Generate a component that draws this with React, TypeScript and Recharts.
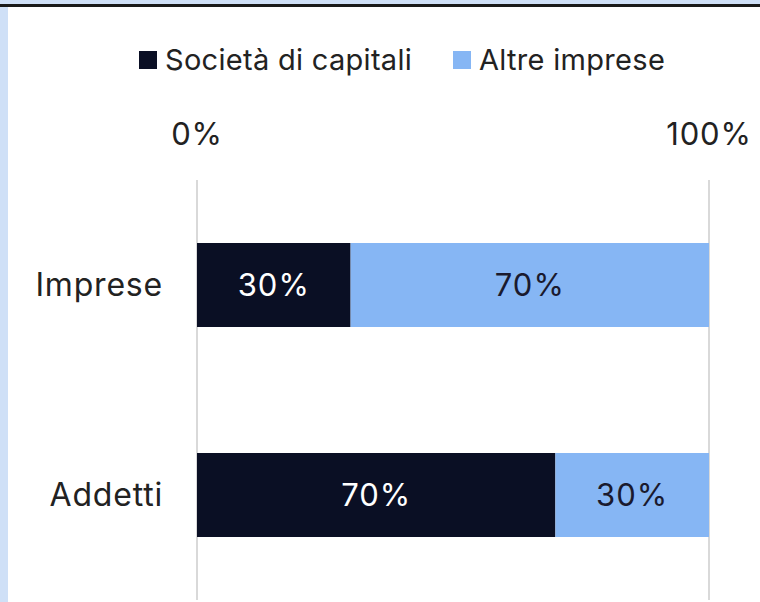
import React from "react";
import { BarChart, Bar, XAxis, YAxis, CartesianGrid, LabelList, Legend } from "recharts";

const categories = ["Impresse", "Addetti"];
const categoryLabels = ["Imprese", "Addetti"];
const societaDiCapitali = [30, 70];
const altreImprese = [70, 30];
const xTicks = [0, 100];
const seriesNames = ["Società di capitali", "Altre imprese"];

const DARK = "#0a0f24";
const LIGHT = "#86b6f4";
const FONT = "Inter, 'Noto Sans', sans-serif";

const data = categories.map((c, i) => ({
  name: categoryLabels[i],
  a: societaDiCapitali[i],
  b: altreImprese[i],
}));

const LegendContent = () => (
  <div style={{ position: "relative", height: 40, fontFamily: FONT, fontSize: 29, color: "#222", letterSpacing: 0.3 }}>
    <div style={{ position: "absolute", left: 139, top: 11, width: 18, height: 18, background: DARK }} />
    <div style={{ position: "absolute", left: 165, top: 0, lineHeight: "40px", whiteSpace: "nowrap" }}>{seriesNames[0]}</div>
    <div style={{ position: "absolute", left: 453, top: 11, width: 18, height: 18, background: LIGHT }} />
    <div style={{ position: "absolute", left: 479, top: 0, lineHeight: "40px", whiteSpace: "nowrap" }}>{seriesNames[1]}</div>
  </div>
);

export default function App() {
  return (
    <div style={{ position: "absolute", left: 0, top: 0, width: 760, height: 602, background: "#fff", overflow: "hidden" }}>
      <div style={{ position: "absolute", left: 0, top: 0, width: 760, height: 4, background: "#cfe0f7" }} />
      <div style={{ position: "absolute", left: 0, top: 4, width: 760, height: 3, background: "#1a1a1a" }} />
      <div style={{ position: "absolute", left: 0, top: 7, width: 8, height: 595, background: "#cfe0f7" }} />
      <BarChart
        width={760}
        height={602}
        data={data}
        layout="vertical"
        margin={{ top: 80, right: 51, bottom: 2, left: 0 }}
        barCategoryGap={63}
      >
        <CartesianGrid horizontal={false} vertical={true} stroke="#d9d9d9" strokeWidth={2} verticalValues={xTicks} />
        <Legend verticalAlign="top" content={<LegendContent />} wrapperStyle={{ top: 40, left: 0, width: 760, height: 40 }} />
        <XAxis
          type="number"
          orientation="top"
          domain={[0, 100]}
          ticks={xTicks}
          tickFormatter={(v) => `${v}%`}
          axisLine={false}
          tickLine={false}
          tickSize={0}
          tickMargin={35}
          height={60}
          interval={0}
          tick={{ fill: "#222", fontSize: 31, fontFamily: FONT, letterSpacing: 0.8 }}
        />
        <YAxis
          type="category"
          dataKey="name"
          width={197}
          axisLine={false}
          tickLine={false}
          tickSize={0}
          tickMargin={34}
          tick={{ fill: "#222", fontSize: 32, fontFamily: FONT, letterSpacing: 0.8 }}
        />
        <Bar dataKey="a" stackId="s" fill={DARK} isAnimationActive={false} name={seriesNames[0]}>
          <LabelList dataKey="a" position="center" formatter={(v: number) => `${v}%`} fill="#fff" fontSize={31} fontFamily={FONT} letterSpacing={1} />
        </Bar>
        <Bar dataKey="b" stackId="s" fill={LIGHT} isAnimationActive={false} name={seriesNames[1]}>
          <LabelList dataKey="b" position="center" formatter={(v: number) => `${v}%`} fill="#1a1a2e" fontSize={31} fontFamily={FONT} letterSpacing={1} />
        </Bar>
      </BarChart>
    </div>
  );
}
